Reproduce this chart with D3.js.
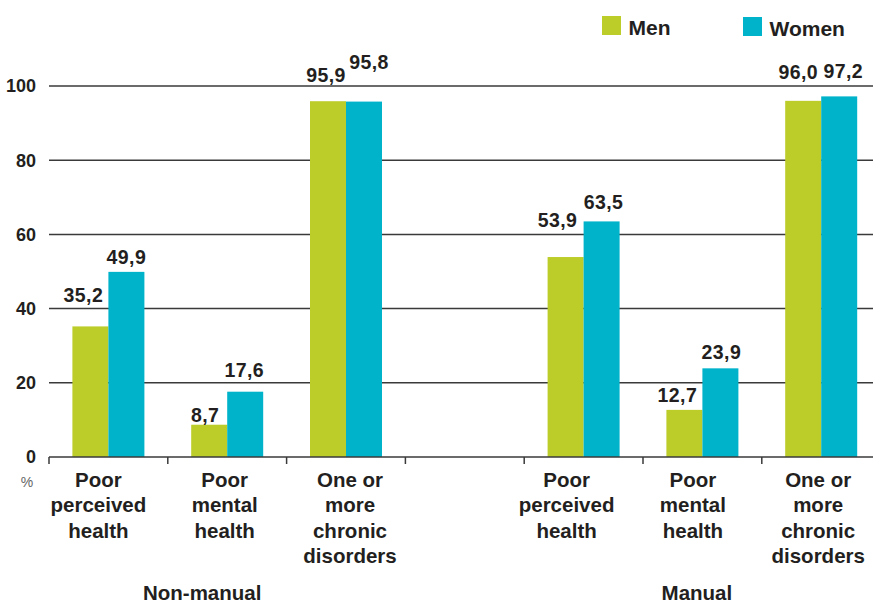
<!DOCTYPE html>
<html>
<head>
<meta charset="utf-8">
<script src="https://cdn.jsdelivr.net/npm/d3@7"></script>
<style>
  html, body { margin: 0; padding: 0; background: #ffffff; }
  svg { display: block; font-family: "Liberation Sans", Arial, Helvetica, sans-serif; }
</style>
</head>
<body>
<svg id="chart" width="873" height="603"></svg>
<script>
// Occupational class groups and indicators
const groups = ["Non-manual", "Manual"];
const indicators = ["Poor perceived health", "Poor mental health", "One or more chronic disorders"];
const indicatorLines = [["Poor", "perceived", "health"], ["Poor", "mental", "health"], ["One or", "more", "chronic", "disorders"]];
const series = ["Men", "Women"];

// Percentages per group, in indicator order
const menNonManual = [35.2, 8.7, 95.9];
const womenNonManual = [49.9, 17.6, 95.8];
const menManual = [53.9, 12.7, 96.0];
const womenManual = [63.5, 23.9, 97.2];

const yTicks = [0, 20, 40, 60, 80, 100];

// Layout
const W = 873, H = 603;
const x0 = 49, bandW = 118.8, y0 = 457, y100 = 86;
const colors = { Men: "#bccd29", Women: "#00b3ca" };
const ink = "#231f20";
const gridColor = "#3a3a3a";

// Small nudges for value labels (dx, dy from bar top), in slot order Men/Women
const valueNudge = [
  [[-7, -24], [0, -8]], [[-4, -3], [-1, -15]], [[-2, -19], [5, -33]],
  [[-8, -30], [2, -12]], [[-7, -8], [1, -9]], [[-5, -22], [4, -18]]
];
const catNudge = [-10, -2.5, 4, -17, -9.5, -3];

// Slots: three non-manual indicators, an empty gap, three manual indicators
const slots = [];
indicators.forEach((ind, i) => slots.push({ key: "NM-" + i, group: groups[0], idx: i, values: [menNonManual[i], womenNonManual[i]] }));
slots.push({ key: "gap", group: null });
indicators.forEach((ind, i) => slots.push({ key: "M-" + i, group: groups[1], idx: i, values: [menManual[i], womenManual[i]] }));

const x = d3.scaleBand().domain(slots.map(d => d.key)).range([x0, x0 + bandW * slots.length]).paddingInner(0).paddingOuter(0);
const xInner = d3.scaleBand().domain(series).range([-36, 36]).padding(0);
const y = d3.scaleLinear().domain([0, 100]).range([y0, y100]);

const svg = d3.select("#chart");

// Gridlines (behind bars)
svg.append("g").selectAll("line").data(yTicks.filter(t => t > 0)).join("line")
  .attr("x1", x0).attr("x2", W)
  .attr("y1", d => y(d)).attr("y2", d => y(d))
  .attr("stroke", gridColor).attr("stroke-width", 1.5);

// Y tick labels
svg.append("g").selectAll("text").data(yTicks).join("text")
  .attr("x", 36).attr("y", d => y(d)).attr("dy", "0.36em")
  .attr("text-anchor", "end")
  .attr("font-size", 18).attr("font-weight", "bold").attr("fill", ink)
  .text(d => d);

svg.append("text").attr("x", 27).attr("y", 487).attr("text-anchor", "middle")
  .attr("font-size", 14).attr("fill", "#666").text("%");

// Bars
const dataSlots = slots.filter(d => d.group);
const barG = svg.append("g");
dataSlots.forEach((s, si) => {
  const cx = x(s.key) + x.bandwidth() / 2;
  series.forEach((name, k) => {
    const v = s.values[k];
    barG.append("rect")
      .attr("x", cx + xInner(name)).attr("width", xInner.bandwidth())
      .attr("y", y(v)).attr("height", y(0) - y(v))
      .attr("fill", colors[name]);
  });
});

// Baseline axis with tick marks at slot boundaries
const axisG = svg.append("g");
axisG.append("line").attr("x1", x0).attr("x2", W).attr("y1", y0).attr("y2", y0)
  .attr("stroke", gridColor).attr("stroke-width", 1.5);
axisG.selectAll("line.tick").data(slots).join("line").attr("class", "tick")
  .attr("x1", d => x(d.key)).attr("x2", d => x(d.key))
  .attr("y1", y0).attr("y2", y0 + 7)
  .attr("stroke", gridColor).attr("stroke-width", 1.5);

// Value labels
dataSlots.forEach((s, si) => {
  const cx = x(s.key) + x.bandwidth() / 2;
  series.forEach((name, k) => {
    const v = s.values[k];
    const bx = cx + xInner(name) + xInner.bandwidth() / 2;
    const [dx, dy] = valueNudge[si][k];
    svg.append("text")
      .attr("x", bx + dx).attr("y", y(v) + dy)
      .attr("text-anchor", "middle")
      .attr("font-size", 19.5).attr("font-weight", "bold").attr("fill", ink)
      .attr("letter-spacing", "0.4")
      .text(d3.format(".1f")(v).replace(".", ","));
  });
});

// Category labels
dataSlots.forEach((s, si) => {
  const cx = x(s.key) + x.bandwidth() / 2 + catNudge[si];
  const t = svg.append("text").attr("text-anchor", "middle")
    .attr("font-size", 20.5).attr("font-weight", "bold").attr("fill", ink);
  indicatorLines[s.idx].forEach((line, li) => {
    t.append("tspan").attr("x", cx).attr("y", 486.5 + li * 25.5).text(line);
  });
});

// Group labels
const groupCenters = [
  x("NM-1") + x.bandwidth() / 2 - 25,
  x("M-1") + x.bandwidth() / 2 - 5.5
];
svg.append("g").selectAll("text").data(groups).join("text")
  .attr("x", (d, i) => groupCenters[i]).attr("y", 600)
  .attr("text-anchor", "middle")
  .attr("font-size", 20.5).attr("font-weight", "bold").attr("fill", ink)
  .text(d => d);

// Legend
const legendPos = [{ x: 602, y: 16 }, { x: 743, y: 17 }];
const legend = svg.append("g").selectAll("g").data(series).join("g")
  .attr("transform", (d, i) => `translate(${legendPos[i].x},${legendPos[i].y})`);
legend.append("rect").attr("width", 19).attr("height", 19).attr("fill", d => colors[d]);
legend.append("text").attr("x", 26.5).attr("y", 18.5)
  .attr("font-size", 21).attr("font-weight", "bold").attr("fill", ink)
  .text(d => d);
</script>
</body>
</html>
